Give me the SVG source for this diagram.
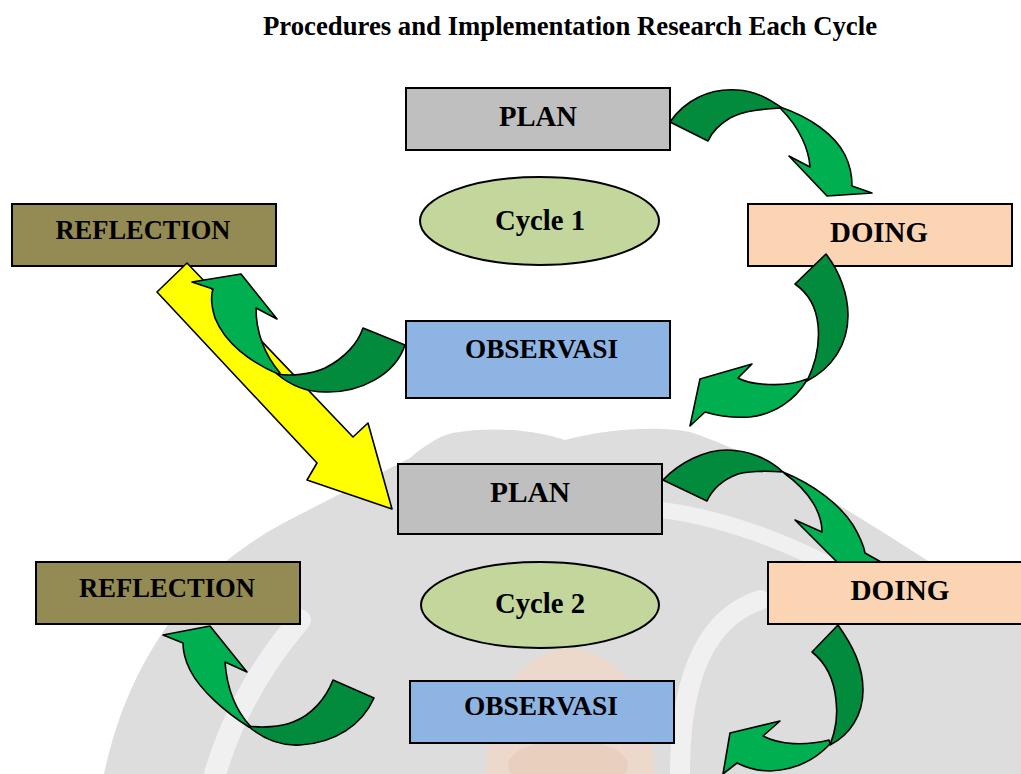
<svg xmlns="http://www.w3.org/2000/svg" width="1021" height="774" viewBox="0 0 1021 774">
<style>
.box{stroke:#000;stroke-width:2}
.plan{fill:#bfbfbf}.refl{fill:#948a54}.doing{fill:#fbd4b4}.obs{fill:#8eb4e3}.cyc{fill:#c3d69b;stroke:#000;stroke-width:2}
.lbl{font-family:"Liberation Serif","Times New Roman",serif;font-weight:bold;fill:#000;text-anchor:middle}
.dk{fill:#038b3d;stroke:#000;stroke-width:1.6;stroke-linejoin:round}
.lt{fill:#00b050;stroke:#000;stroke-width:1.6;stroke-linejoin:round}
.yl{fill:#ffff00;stroke:#000;stroke-width:1.6;stroke-linejoin:round}
.band{fill:none;stroke:#ffffff;stroke-opacity:0.55;stroke-linecap:round}
</style>
<rect width="1021" height="774" fill="#ffffff"/>
<g id="watermark">
<path fill="#dddddd" d="M 104 774 C 120 700 150 640 200 585 C 230 555 260 535 293 518 L 410 458 C 425 445 440 436 452 433 C 500 425 540 432 565 440 C 610 428 660 426 690 432 C 760 455 840 505 900 543 C 950 575 990 600 1021 625 L 1021 774 Z"/>
<path class="band" stroke-width="16" d="M 662 510 Q 740 520 830 565"/>
<path class="band" stroke-width="22" d="M 215 774 Q 240 690 300 620"/>
<path class="band" stroke-width="20" d="M 680 774 C 680 690 700 620 760 600"/>
<path fill="#ecd9cc" d="M 485 774 C 490 700 520 650 570 648 C 620 650 650 700 655 774 Z"/>
<ellipse cx="568" cy="765" rx="60" ry="25" fill="#e8c8b4" opacity="0.6"/>
</g>
<text class="lbl" x="570" y="35" font-size="27" textLength="614" lengthAdjust="spacingAndGlyphs">Procedures and Implementation Research Each Cycle</text>
<g id="plan1"><rect class="box plan" x="406" y="88" width="264" height="62"/><text class="lbl" x="538" y="126" font-size="29" textLength="78" lengthAdjust="spacingAndGlyphs">PLAN</text></g>
<g id="reflection1"><rect class="box refl" x="12" y="204" width="264" height="62"/><text class="lbl" x="143" y="239" font-size="27" textLength="175" lengthAdjust="spacingAndGlyphs">REFLECTION</text></g>
<g id="cycle1"><ellipse class="cyc" cx="539.5" cy="221" rx="119.5" ry="44"/><text class="lbl" x="540" y="230" font-size="29" textLength="90" lengthAdjust="spacingAndGlyphs">Cycle 1</text></g>
<g id="doing1"><rect class="box doing" x="748" y="204" width="264" height="62"/><text class="lbl" x="879" y="242" font-size="29" textLength="98" lengthAdjust="spacingAndGlyphs">DOING</text></g>
<g id="observasi1"><rect class="box obs" x="406" y="321" width="264" height="77"/><text class="lbl" x="541.5" y="358" font-size="28" textLength="153" lengthAdjust="spacingAndGlyphs">OBSERVASI</text></g>
<g id="plan2"><rect class="box plan" x="398" y="464" width="264" height="70"/><text class="lbl" x="530" y="502" font-size="29" textLength="80" lengthAdjust="spacingAndGlyphs">PLAN</text></g>
<g id="reflection2"><rect class="box refl" x="36" y="562" width="264" height="62"/><text class="lbl" x="167" y="597" font-size="27" textLength="176" lengthAdjust="spacingAndGlyphs">REFLECTION</text></g>
<g id="cycle2"><ellipse class="cyc" cx="540" cy="605" rx="119" ry="43"/><text class="lbl" x="540" y="613" font-size="29" textLength="90" lengthAdjust="spacingAndGlyphs">Cycle 2</text></g>
<g id="doing2"><rect class="box doing" x="768" y="562" width="266" height="62"/><text class="lbl" x="900" y="600" font-size="29" textLength="99" lengthAdjust="spacingAndGlyphs">DOING</text></g>
<g id="observasi2"><rect class="box obs" x="410" y="681" width="264" height="62"/><text class="lbl" x="541" y="715" font-size="28" textLength="154" lengthAdjust="spacingAndGlyphs">OBSERVASI</text></g>
<g id="connectors">
<path class="yl" d="M 187 263 L 353 437 L 368 423 L 392 509 L 307 480 L 317 463 L 157 292 Z"/>
<g id="c1">
<path class="dk" d="M 670 122 C 685 100, 710 88, 737 90 C 755 91, 768 98, 782 108 C 765 109, 745 110, 730 118 C 720 124, 712 132, 708 141 Z"/>
<path class="lt" d="M 780 107 C 810 117, 835 135, 845 155 C 850 165, 852 176, 852 186 L 872 193 L 827 196 L 789 156 L 810 167 C 809 150, 800 128, 781 109 Z"/>
</g>
<g id="c2">
<path class="dk" d="M 826 254 C 840 272, 848 295, 848 315 C 848 345, 832 368, 807 381 C 815 365, 820 345, 818 325 C 816 305, 808 293, 795 284 Z"/>
<path class="lt" d="M 807 380 C 795 400, 775 414, 750 417 C 735 418, 718 416, 705 412 L 690 426 L 700 379 L 752 364 L 738 378 C 750 385, 785 388, 807 379 Z"/>
</g>
<g id="c3">
<path class="dk" d="M 405 345 C 395 375, 360 393, 325 392 C 305 392, 290 385, 277 374 C 290 376, 310 375, 325 368 C 345 358, 358 343, 363 328 Z"/>
<path class="lt" d="M 278 374 C 250 362, 225 343, 215 318 C 211 305, 211 295, 213 289 L 192 282 L 241 274 L 277 319 L 256 308 C 256 335, 265 355, 280 373 Z"/>
</g>
<g id="c4">
<path class="dk" d="M 663 480 C 680 462, 705 450, 727 450 C 750 450, 770 460, 783 472 C 770 471, 750 471, 738 474 C 722 480, 712 490, 707 501 Z"/>
<path class="lt" d="M 783 472 C 815 485, 840 505, 853 525 C 860 537, 864 547, 865 553 L 881 562 L 837 562 L 795 520 L 822 532 C 822 515, 812 493, 784 473 Z"/>
</g>
<g id="c5">
<path class="dk" d="M 838 625 C 852 645, 863 665, 863 690 C 863 715, 850 735, 830 745 C 836 730, 838 715, 836 700 C 834 680, 826 663, 812 652 Z"/>
<path class="lt" d="M 830 744 C 815 760, 795 770, 770 771 C 758 771, 747 768, 737 763 L 723 774 L 730 733 L 780 721 L 763 736 C 780 745, 805 746, 829 740 Z"/>
</g>
<g id="c6">
<path class="dk" d="M 374 698 C 362 725, 335 743, 300 745 C 280 746, 262 738, 248 726 C 262 728, 280 727, 293 722 C 312 715, 326 698, 333 680 Z"/>
<path class="lt" d="M 249 727 C 225 712, 200 690, 190 670 C 185 660, 183 650, 183 643 L 163 635 L 210 626 L 247 672 L 225 662 C 227 690, 237 712, 251 727 Z"/>
</g>
</g>
</svg>
